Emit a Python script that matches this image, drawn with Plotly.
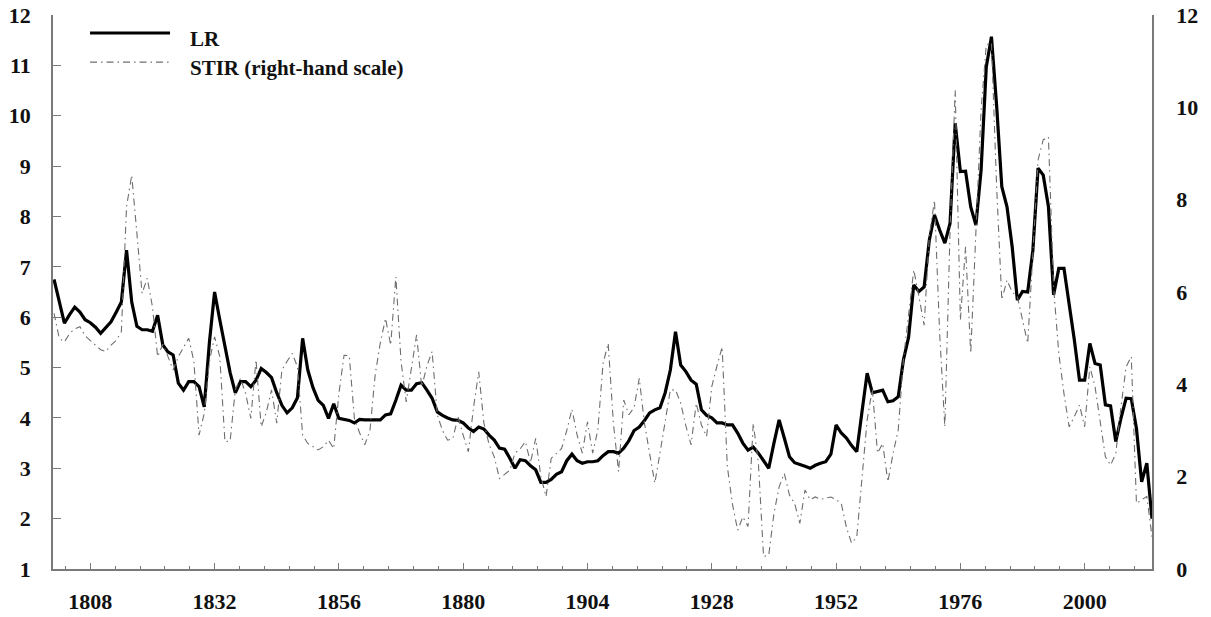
import plotly.graph_objects as go

years = list(range(1801, 2014))

lr = [
    6.75, 6.30, 5.88, 6.05, 6.20, 6.10, 5.95, 5.89, 5.80, 5.68,   # 1801-1810
    5.80, 5.91, 6.10, 6.30, 7.33, 6.30, 5.82, 5.75, 5.75, 5.72,   # 1811-1820
    6.04, 5.45, 5.31, 5.25, 4.69, 4.55, 4.72, 4.72, 4.62, 4.22,   # 1821-1830
    5.50, 6.50, 5.95, 5.45, 4.90, 4.50, 4.72, 4.72, 4.62, 4.75,   # 1831-1840
    4.98, 4.90, 4.80, 4.50, 4.25, 4.10, 4.20, 4.40, 5.58, 4.95,   # 1841-1850
    4.60, 4.35, 4.25, 3.99, 4.28, 3.99, 3.97, 3.95, 3.90, 3.97,   # 1851-1860
    3.96, 3.96, 3.96, 3.96, 4.06, 4.08, 4.35, 4.65, 4.55, 4.55,   # 1861-1870
    4.68, 4.70, 4.55, 4.39, 4.12, 4.05, 4.00, 3.96, 3.95, 3.90,   # 1871-1880
    3.80, 3.73, 3.82, 3.78, 3.66, 3.56, 3.40, 3.38, 3.20, 3.00,   # 1881-1890
    3.17, 3.15, 3.05, 2.97, 2.72, 2.72, 2.78, 2.88, 2.93, 3.15,   # 1891-1900
    3.28, 3.15, 3.10, 3.13, 3.13, 3.15, 3.25, 3.33, 3.33, 3.30,   # 1901-1910
    3.40, 3.55, 3.75, 3.82, 3.95, 4.10, 4.16, 4.20, 4.50, 4.95,   # 1911-1920
    5.71, 5.05, 4.92, 4.75, 4.67, 4.16, 4.05, 4.00, 3.90, 3.90,   # 1921-1930
    3.86, 3.86, 3.70, 3.50, 3.36, 3.42, 3.30, 3.15, 3.00, 3.50,   # 1931-1940
    3.96, 3.60, 3.23, 3.11, 3.08, 3.04, 3.00, 3.06, 3.10, 3.13,   # 1941-1950
    3.28, 3.86, 3.70, 3.60, 3.45, 3.33, 4.12, 4.89, 4.50, 4.52,   # 1951-1960
    4.55, 4.32, 4.34, 4.42, 5.15, 5.60, 6.64, 6.51, 6.60, 7.53,   # 1961-1970
    8.03, 7.73, 7.47, 7.86, 9.85, 8.89, 8.90, 8.19, 7.83, 8.92,   # 1971-1980
    10.97, 11.57, 10.20, 8.59, 8.19, 7.40, 6.34, 6.51, 6.50, 7.33,  # 1981-1990
    8.96, 8.82, 8.20, 6.44, 6.97, 6.97, 6.28, 5.55, 4.75, 4.75,   # 1991-2000
    5.48, 5.08, 5.05, 4.26, 4.24, 3.53, 3.99, 4.39, 4.38, 3.79,   # 2001-2010
    2.73, 3.10, 2.00,                                             # 2011-2013
]

stir = [
    5.54, 5.00, 4.92, 5.10, 5.20, 5.25, 5.05, 4.95, 4.85, 4.75,   # 1801-1810
    4.71, 4.85, 4.95, 5.14, 7.85, 8.53, 7.27, 5.97, 6.30, 5.68,   # 1811-1820
    4.60, 4.87, 4.60, 4.31, 4.60, 4.80, 5.00, 4.50, 2.90, 3.37,   # 1821-1830
    4.50, 5.03, 4.60, 2.76, 2.77, 3.88, 4.13, 3.80, 3.26, 4.53,   # 1831-1840
    3.08, 3.40, 3.88, 3.16, 4.31, 4.50, 4.67, 4.38, 2.90, 2.72,   # 1841-1850
    2.65, 2.58, 2.65, 2.79, 2.61, 3.80, 4.63, 4.62, 3.26, 2.95,   # 1851-1860
    2.69, 3.00, 4.20, 4.90, 5.43, 4.85, 6.33, 4.50, 3.62, 4.31,   # 1861-1870
    5.07, 3.95, 4.40, 4.71, 3.34, 3.00, 2.79, 2.82, 3.30, 2.90,   # 1871-1880
    2.54, 3.50, 4.27, 3.16, 2.70, 2.43, 1.96, 2.05, 2.14, 2.51,   # 1881-1890
    2.60, 2.76, 2.30, 2.83, 2.00, 1.57, 2.40, 2.50, 2.61, 3.00,   # 1891-1900
    3.46, 2.90, 2.51, 3.19, 2.51, 3.01, 4.45, 4.89, 3.16, 2.11,   # 1901-1910
    3.66, 3.34, 3.50, 4.13, 3.16, 2.50, 1.86, 2.51, 3.20, 3.88,   # 1911-1920
    3.88, 3.59, 3.10, 2.69, 3.59, 3.12, 2.87, 3.95, 4.40, 4.81,   # 1921-1930
    2.22, 1.40, 0.84, 1.13, 0.92, 3.16, 2.30, 0.27, 0.30, 1.20,   # 1931-1940
    1.78, 2.07, 1.60, 1.42, 0.99, 1.71, 1.50, 1.56, 1.51, 1.53,   # 1941-1950
    1.56, 1.50, 1.42, 0.90, 0.56, 0.70, 2.00, 3.23, 3.90, 2.51,   # 1951-1960
    2.72, 1.89, 2.50, 3.01, 4.53, 5.50, 6.48, 5.90, 5.28, 7.20,   # 1961-1970
    7.99, 5.10, 3.08, 7.30, 10.37, 5.39, 6.98, 4.67, 7.41, 9.94,  # 1971-1980
    11.35, 11.40, 8.28, 5.83, 6.26, 6.00, 5.90, 5.40, 4.89, 6.84,  # 1981-1990
    8.86, 9.30, 9.36, 6.11, 4.67, 3.80, 3.08, 3.30, 3.55, 3.08,   # 1991-2000
    4.38, 3.95, 3.20, 2.43, 2.25, 2.50, 3.50, 4.38, 4.60, 1.42,   # 2001-2010
    1.50, 1.57, 0.70,                                             # 2011-2013
]

x_ticks = [1808, 1832, 1856, 1880, 1904, 1928, 1952, 1976, 2000]
left_ticks = list(range(1, 13))
right_ticks = list(range(0, 13, 2))

FONT = "Liberation Serif"
AXIS_COLOR = "#7a7a7a"
TXT = "#111111"

fig = go.Figure()

fig.add_trace(go.Scatter(
    x=years, y=stir, yaxis="y2", mode="lines", name="STIR (right-hand scale)",
    line=dict(color="#6e6e6e", width=1.1, dash="7px,4px,1.5px,4px"),
    showlegend=False,
))
fig.add_trace(go.Scatter(
    x=years, y=lr, yaxis="y", mode="lines", name="LR",
    line=dict(color="#000000", width=3.2),
    showlegend=False,
))

# legend drawn as decoration
legend_items = [
    ("LR", dict(color="#000000", width=3.2, dash="solid"), 0.9675, 0.957),
    ("STIR (right-hand scale)", dict(color="#6e6e6e", width=1.2, dash="7px,4px,1.5px,4px"), 0.915, 0.904),
]
for label, ln, yl, yt in legend_items:
    fig.add_shape(type="line", xref="paper", yref="paper",
                  x0=0.0337, x1=0.1065, y0=yl, y1=yl, line=ln)
    fig.add_annotation(xref="paper", yref="paper", x=0.1228, y=yt,
                       xanchor="left", yanchor="middle", text=f"<b>{label}</b>",
                       showarrow=False,
                       font=dict(family=FONT, size=21, color=TXT))

fig.update_layout(
    template="none",
    width=1211, height=617, autosize=False,
    margin=dict(l=53, r=59, t=15, b=48, pad=0),
    paper_bgcolor="white", plot_bgcolor="white",
    showlegend=False,
    xaxis=dict(
        range=[1800.8, 2013], tickmode="array", tickvals=x_ticks,
        ticktext=[f"<b>{t}</b>" for t in x_ticks],
        ticks="inside", ticklen=6, tickwidth=1, tickcolor=AXIS_COLOR,
        minor=dict(dtick=4.8, tick0=1808, ticks="inside", ticklen=3,
                   tickcolor=AXIS_COLOR, showgrid=False),
        showline=True, linecolor=AXIS_COLOR, linewidth=1.5,
        showgrid=False, zeroline=False, ticklabelstandoff=12, automargin=False,
        tickfont=dict(family=FONT, size=22, color=TXT),
    ),
    yaxis=dict(
        range=[1, 12], tickmode="array", tickvals=left_ticks,
        ticktext=[f"<b>{t}</b>" for t in left_ticks],
        ticks="inside", ticklen=8, tickwidth=1, tickcolor=AXIS_COLOR,
        showline=True, linecolor=AXIS_COLOR, linewidth=1.5,
        showgrid=False, zeroline=False, ticklabelstandoff=16, automargin=False,
        tickfont=dict(family=FONT, size=22, color=TXT),
    ),
    # right-hand labels (transparent outside ticks push labels away from the axis)
    yaxis2=dict(
        range=[0, 12], overlaying="y", side="right", anchor="x", tickmode="array",
        tickvals=right_ticks, ticktext=[f"<b>{t}</b>" for t in right_ticks],
        ticks="outside", ticklen=18, tickcolor="rgba(0,0,0,0)",
        showline=True, linecolor=AXIS_COLOR, linewidth=1.5,
        showgrid=False, zeroline=False, automargin=False,
        tickfont=dict(family=FONT, size=22, color=TXT),
    ),
    # right-hand inside tick marks
    yaxis3=dict(
        range=[0, 12], overlaying="y", side="right", anchor="x", tickmode="array",
        tickvals=right_ticks, showticklabels=False,
        ticks="inside", ticklen=8, tickwidth=1, tickcolor=AXIS_COLOR,
        showline=False, showgrid=False, zeroline=False, automargin=False,
    ),
)

fig.write_html("out.html", config={"displayModeBar": False},
               post_script="document.body.style.margin='0';document.body.style.overflow='hidden';")
